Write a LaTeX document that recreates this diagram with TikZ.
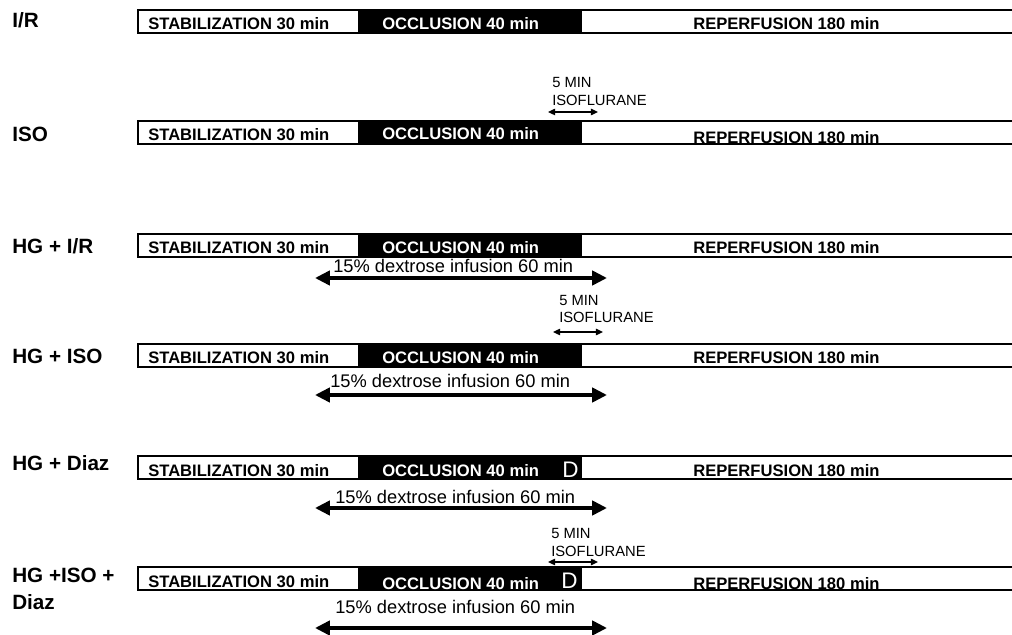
\documentclass[tikz,border=0pt]{standalone}
\usepackage{fontspec}
\setmainfont{Liberation Sans}
\usetikzlibrary{arrows.meta}

\begin{document}
\begin{tikzpicture}[x=0.025cm, y=-0.025cm,
  bar/.style={draw, line width=1.5pt},
  phase/.style={anchor=base west, inner sep=0pt, font=\fontsize{11.8}{14}\selectfont\bfseries},
  group/.style={anchor=base west, inner sep=0pt, align=left, font=\fontsize{14.7}{19}\selectfont\bfseries},
  dex/.style={anchor=base west, inner sep=0pt, font=\fontsize{13}{15}\selectfont},
  iso/.style={anchor=base west, inner sep=0pt, align=left, font=\fontsize{10.5}{12.8}\selectfont},
  dmark/.style={anchor=base west, inner sep=0pt, text=white, font=\fontsize{16}{18}\selectfont},
  dexarrow/.style={{Triangle[length=10.5pt,width=10pt]}-{Triangle[length=10.5pt,width=10pt]}, line width=2.8pt},
  isoarrow/.style={{Triangle[length=5pt,width=4.5pt]}-{Triangle[length=5pt,width=4.5pt]}, line width=1pt}]

\useasboundingbox (0,0) rectangle (1012,635);

\foreach \t/\r/\lab/\ly/\oc/\rp in {
  10/ir/{I/R}/28/0/0,
  121/iso/{ISO}/142/-1/3,
  234/hgir/{HG + I/R}/254/0/0,
  344/hgiso/{HG + ISO}/364/0/0,
  456/hgdiaz/{HG + Diaz}/470/0/0,
  567/hgisodiaz/{HG +ISO +\\Diaz}/609/2/2}
{
  \fill (358,\t) rectangle (582,\t+23);
  \draw[bar] (138,\t) rectangle (1016,\t+23);
  \node[group] (\r-lab) at (12,\ly) {\lab};
  \node[phase] (\r-stab) at (148,\t+20) {STABILIZATION 30 min};
  \node[phase, text=white] (\r-occl) at (382,\t+20+\oc) {OCCLUSION 40 min};
  \node[phase] (\r-rep) at (693,\t+20+\rp) {REPERFUSION 180 min};
}

\foreach \r/\tx/\ty/\ay in {hgir/333/273/278, hgiso/330/388/395, hgdiaz/335/503/508, hgisodiaz/335/613/628}
{
  \node[dex] (\r-dextxt) at (\tx,\ty) {15\% dextrose infusion 60 min};
  \coordinate (\r-dexL) at (315,\ay);
  \coordinate (\r-dexR) at (607,\ay);
  \draw[dexarrow] (\r-dexL) -- (\r-dexR);
}

\foreach \r/\tx/\ty/\ay/\al in {iso/552/106/112/548, hgiso/559/323/332/553, hgisodiaz/551/556/562/548}
{
  \node[iso] (\r-isotxt) at (\tx,\ty) {5 MIN\\ISOFLURANE};
  \coordinate (\r-isoL) at (\al,\ay);
  \coordinate (\r-isoR) at (\al+50,\ay);
  \draw[isoarrow] (\r-isoL) -- (\r-isoR);
}

\node[dmark] (hgdiaz-d) at (562,477) {D};
\node[dmark] (hgisodiaz-d) at (561,588) {D};
\end{tikzpicture}
\end{document}
